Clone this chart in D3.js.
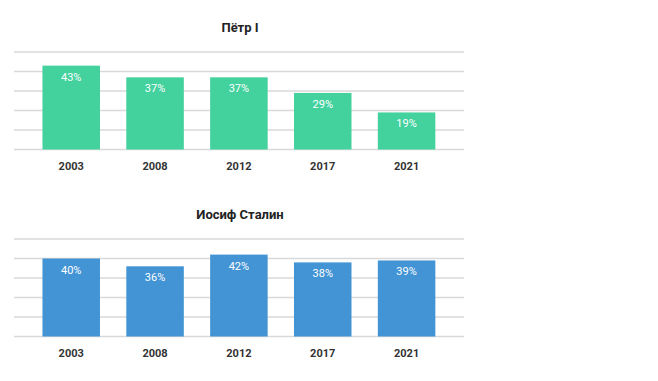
<!DOCTYPE html>
<html><head><meta charset="utf-8">
<script src="https://cdn.jsdelivr.net/npm/d3@7"></script>
<style>body{margin:0;background:#fff}svg{display:block}</style>
</head><body>
<svg id="c" width="658" height="381"></svg>
<script>
const years = ["2003","2008","2012","2017","2021"];
const petrValues = [43,37,37,29,19];
const stalinValues = [40,36,42,38,39];
const titles = ["Пётр I","Иосиф Сталин"];
const gridTicks = [0,10,20,30,40,50];

const svg = d3.select("#c");
const panels = [
  {title: titles[0], values: petrValues, color: "#43D19E", top: 0},
  {title: titles[1], values: stalinValues, color: "#4394D4", top: 187}
];
const x = d3.scaleBand().domain(years).range([29.3,448.5]).paddingInner(0.314).paddingOuter(0.157);

panels.forEach(p => {
  const g = svg.append("g").attr("transform", `translate(0,${p.top})`);
  const baseY = 149.5;
  const y = d3.scaleLinear().domain([0,50]).range([baseY, baseY-97.5]);
  g.append("text").attr("x", 240).attr("y", 32).attr("text-anchor","middle")
    .attr("font-family","Roboto, 'Noto Sans', sans-serif").attr("font-weight","bold")
    .attr("font-size", 13).attr("fill","#222").text(p.title);
  g.selectAll("line.grid").data(gridTicks).join("line").attr("class","grid")
    .attr("x1",14).attr("x2",464).attr("y1",d=>y(d)).attr("y2",d=>y(d))
    .attr("stroke","#d9d9d9").attr("stroke-width",1.3);
  g.selectAll("rect").data(p.values).join("rect")
    .attr("x",(d,i)=>x(years[i])).attr("width",x.bandwidth())
    .attr("y",d=>y(d)).attr("height",d=>baseY-y(d)).attr("fill",p.color);
  g.selectAll("text.val").data(p.values).join("text").attr("class","val")
    .attr("x",(d,i)=>x(years[i])+x.bandwidth()/2).attr("y",d=>y(d)+15)
    .attr("text-anchor","middle").attr("font-family","Roboto, 'Noto Sans', sans-serif")
    .attr("font-size",11).attr("fill","#fff").text(d=>d+"%");
  const ax = d3.axisBottom(x).tickSize(0).tickPadding(0);
  const axg = g.append("g").attr("transform",`translate(0,${baseY+20})`).call(ax);
  axg.select(".domain").remove();
  axg.selectAll("text").attr("font-family","Roboto, 'Noto Sans', sans-serif")
    .attr("font-weight","bold").attr("font-size",11).attr("fill","#333").attr("dy","0");
});
</script>
</body></html>
